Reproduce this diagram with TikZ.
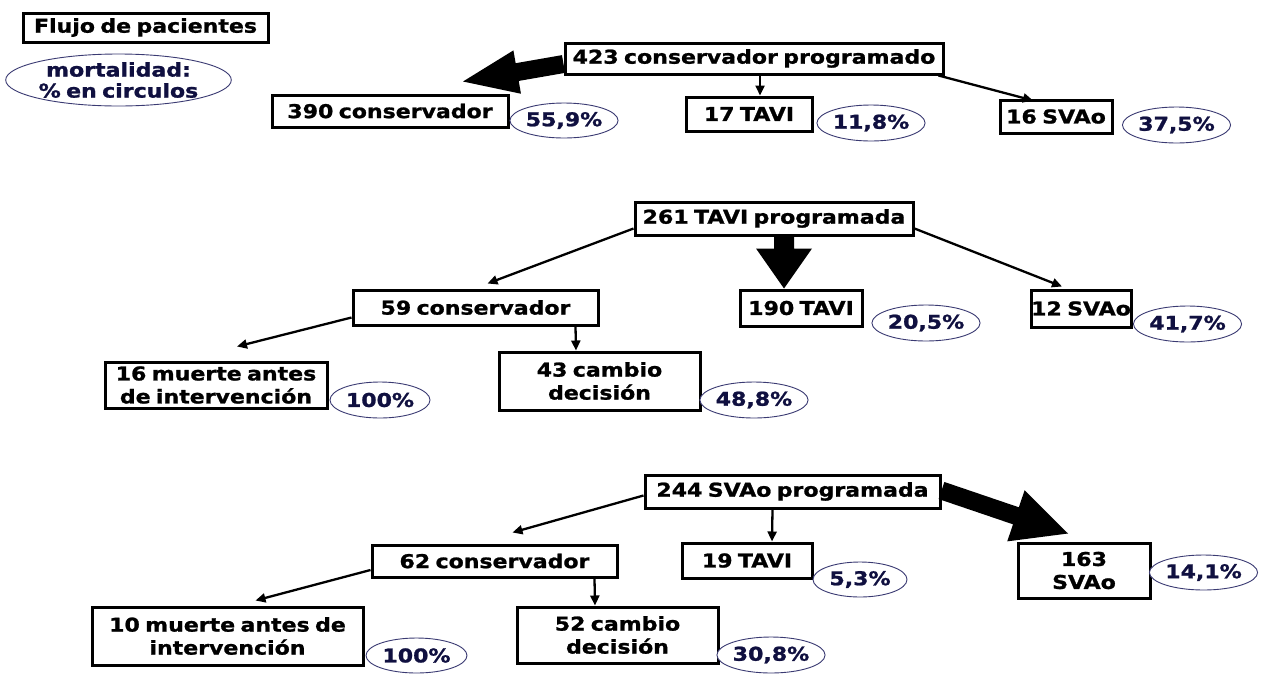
\documentclass[tikz,border=0pt]{standalone}
\usepackage{fontspec}
\newfontfamily\dvb{DejaVu Sans Bold}[FakeStretch=1.16,FakeBold=1.2,WordSpace=0.7]
\usetikzlibrary{shapes.geometric,arrows.meta,calc}
\definecolor{pcttext}{HTML}{101040}
\definecolor{ellline}{HTML}{3A3A72}
\tikzset{
  box/.style={draw=black,line width=3pt,fill=white,inner sep=0pt,align=center,
    font=\dvb\fontsize{19}{23}\selectfont},
  pct/.style={ellipse,draw=ellline,line width=0.9pt,fill=white,inner sep=0pt,
    text=pcttext,font=\dvb\fontsize{19}{23}\selectfont},
  arr/.style={draw=black,line width=2.3pt,-{Triangle[length=10pt,width=9pt]}}
}
\newcommand\fatarr[5]{%
  \path ($(#2)!#5!(#1)$) coordinate (fatB);
  \fill[black] ($(#1)!#3!90:(#2)$) -- ($(fatB)!#3!90:(#2)$) -- ($(fatB)!#4!90:(#2)$)
    -- (#2) -- ($(fatB)!#4!-90:(#2)$) -- ($(fatB)!#3!-90:(#2)$) -- ($(#1)!#3!-90:(#2)$) -- cycle;
}
\begin{document}
\begin{tikzpicture}[x=1pt,y=-1pt]
\fill[white] (0,0) rectangle (1269,673);
\useasboundingbox (0,0) rectangle (1269,673);

% legend
\node[box,minimum width=245,minimum height=29] (flujo) at (145.5,27.5) {Flujo de pacientes};
\node[pct,minimum width=221,minimum height=52,align=center,font=\dvb\fontsize{19}{21}\selectfont] (leg) at (118.5,80) {mortalidad:\\\% en circulos};

% row 1
\node[box,minimum width=378,minimum height=31] (A1) at (754,58.5) {423 conservador programado};
\node[box,minimum width=236,minimum height=32] (B1) at (390,111) {390 conservador};
\node[pct,minimum width=102,minimum height=35] (e1) at (564,120.5) {55,9\%};
\node[box,minimum width=126,minimum height=34] (C1) at (749,114) {17 TAVI};
\node[pct,minimum width=100,minimum height=36] (f1) at (871,123) {11,8\%};
\node[box,minimum width=112,minimum height=33] (D1) at (1056,116.5) {16 SVAo};
\node[pct,minimum width=103,minimum height=36] (g1) at (1176.5,125) {37,5\%};

\coordinate (t1s) at ($(A1.west)+(0,5.5)$);
\coordinate (t1e) at ($(B1.north)+(73,-12)$);
\fatarr{t1s}{t1e}{9pt}{22pt}{55pt}
\draw[arr] ($(A1.south)+(6,0)$) -- ($(C1.north)+(11,0)$);
\draw[arr] ($(A1.south east)+(-6,0)$) -- ($(D1.north)+(-23,2)$);

% row 2
\node[box,minimum width=278,minimum height=33] (A2) at (774,218.5) {261 TAVI programada};
\node[box,minimum width=245,minimum height=35] (B2) at (475.5,307.5) {59 conservador};
\node[box,minimum width=122,minimum height=36] (C2) at (801,308) {190 TAVI};
\node[pct,minimum width=102,minimum height=36] (e2) at (926,323) {20,5\%};
\node[box,minimum width=100,minimum height=37] (D2) at (1081,308.5) {12 SVAo};
\node[pct,minimum width=105,minimum height=36] (f2) at (1187.5,324) {41,7\%};
\node[box,minimum width=222,minimum height=46] (E2) at (216,385) {16 muerte antes\\de intervención};
\node[pct,minimum width=100,minimum height=36] (g2) at (380,400) {100\%};
\node[box,minimum width=201,minimum height=58] (F2) at (599.5,381) {43 cambio\\decisión};
\node[pct,minimum width=102,minimum height=36] (h2) at (754,400) {48,8\%};

\coordinate (t2s) at ($(A2.south)+(10,0)$);
\coordinate (t2e) at ($(C2.north)+(-17,0)$);
\fatarr{t2s}{t2e}{10pt}{28pt}{40pt}
\draw[arr] ($(A2.west)+(0,10)$) -- ($(B2.north)+(12,-5)$);
\draw[arr] ($(A2.east)+(0,10)$) -- ($(D2.north)+(-19,-2)$);
\draw[arr] ($(B2.west)+(0,10)$) -- ($(E2.north)+(21,-14)$);
\draw[arr] ($(B2.south)+(100,0)$) -- ($(F2.north)+(-23.5,0)$);

% row 3
\node[box,minimum width=295,minimum height=33] (A3) at (792.5,491.5) {244 SVAo programada};
\node[box,minimum width=245,minimum height=32] (B3) at (494.5,561) {62 conservador};
\node[box,minimum width=130,minimum height=35] (C3) at (747,560.5) {19 TAVI};
\node[pct,minimum width=94,minimum height=35] (e3) at (860,579.5) {5,3\%};
\node[box,minimum width=132,minimum height=55] (D3) at (1084,570.5) {163\\SVAo};
\node[pct,minimum width=101,minimum height=35] (f3) at (1203.5,572.5) {14,1\%};
\node[box,minimum width=271,minimum height=58] (E3) at (227.5,636) {10 muerte antes de\\intervención};
\node[pct,minimum width=101,minimum height=35] (g3) at (416.5,655.5) {100\%};
\node[box,minimum width=201,minimum height=56] (F3) at (617.5,635) {52 cambio\\decisión};
\node[pct,minimum width=102,minimum height=36] (h3) at (771,655) {30,8\%};

\coordinate (t3s) at ($(A3.east)+(0,-1)$);
\coordinate (t3e) at ($(D3.north)+(-16,-8)$);
\fatarr{t3s}{t3e}{9pt}{27pt}{55pt}
\draw[arr] ($(A3.west)+(0,4)$) -- ($(B3.north)+(18,-11)$);
\draw[arr] ($(A3.south)+(-20,0)$) -- ($(C3.north)+(25,0)$);
\draw[arr] ($(B3.west)+(0,9)$) -- ($(E3.north)+(28,-5)$);
\draw[arr] ($(B3.south)+(100,0)$) -- ($(F3.north)+(-22.5,0)$);
\end{tikzpicture}
\end{document}
